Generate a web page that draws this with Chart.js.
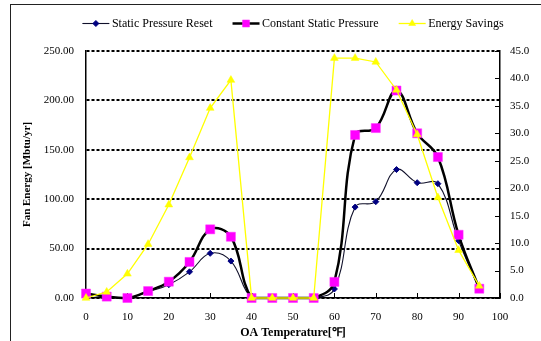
<!DOCTYPE html>
<html>
<head>
<meta charset="utf-8">
<script src="https://cdn.jsdelivr.net/npm/chart.js"></script>
<style>
  html, body { margin: 0; padding: 0; background: #fff; }
  #wrap { position: relative; width: 541px; height: 341px; overflow: hidden; }
  #frame { position: absolute; left: 10px; top: 4px; width: 700px; height: 700px; border: 1.5px solid #222; box-sizing: border-box; }
  canvas { position: absolute; left: 0; top: 0; }
</style>
</head>
<body>
<div id="wrap">
  <div id="frame"></div>
  <canvas id="c" width="541" height="341"></canvas>
</div>
<script>
// ---- data ----
const temperatures = [0, 5, 10, 15, 20, 25, 30, 35, 40, 45, 50, 55, 60, 65, 70, 75, 80, 85, 90, 95];
const staticPressureReset = [4, 1.4, 0, 6.3, 13.5, 26.5, 45.2, 37.4, 0, 0, 0, 0, 9.1, 92, 97.5, 130, 116.7, 115.7, 58, 9.2];
const constantStaticPressure = [4.5, 1.4, 0, 7, 16.5, 36.5, 69.5, 62, 0, 0, 0, 0, 16.3, 165, 172, 210, 166.7, 142.7, 64, 9.4];
const energySavings = [0, 1.1, 4.4, 9.8, 17.0, 25.6, 34.6, 39.7, 0, 0, 0, 0, 43.7, 43.7, 43.0, 37.9, 29.8, 18.3, 8.7, 2.2];
const seriesNames = ['Static Pressure Reset', 'Constant Static Pressure', 'Energy Savings'];
const leftAxisTitle = 'Fan Energy [Mbtu/yr]';
const xAxisTitle = 'OA Temperature[\u2109]';

const toPoints = (vals) => vals.map((v, i) => ({ x: temperatures[i], y: v }));
const FONT = '"Liberation Serif", "Times New Roman", serif';

const innerTicks = {
  id: 'innerTicks',
  beforeDatasetsDraw(chart) {
    const { ctx, chartArea: a, scales } = chart;
    ctx.save();
    ctx.strokeStyle = '#000';
    ctx.lineWidth = 1;
    scales.x.ticks.forEach(t => {
      const px = Math.round(scales.x.getPixelForValue(t.value)) + 0.5;
      ctx.beginPath(); ctx.moveTo(px, a.bottom); ctx.lineTo(px, a.bottom - 5); ctx.stroke();
    });
    scales.y1.ticks.forEach(t => {
      const py = Math.round(scales.y1.getPixelForValue(t.value)) + 0.5;
      ctx.beginPath(); ctx.moveTo(a.right, py); ctx.lineTo(a.right - 5, py); ctx.stroke();
    });
    ctx.restore();
  }
};

const customLegend = {
  id: 'customLegend',
  afterDraw(chart) {
    const ctx = chart.ctx;
    const a = chart.chartArea;
    const y = 23.5;
    ctx.save();
    ctx.font = '12px ' + FONT;
    const items = chart.data.datasets.map(ds => ({ ds, w: ctx.measureText(ds.label).width }));
    const lineLen = 27, gap = 2.5, spacing = 20;
    const total = items.reduce((s, it) => s + lineLen + gap + it.w, 0) + spacing * (items.length - 1);
    let x = (a.left + a.right) / 2 - total / 2;
    items.forEach(it => {
      const ds = it.ds;
      ctx.strokeStyle = ds.borderColor;
      ctx.lineWidth = ds.borderWidth;
      ctx.setLineDash([]);
      ctx.beginPath(); ctx.moveTo(x, y); ctx.lineTo(x + lineLen, y); ctx.stroke();
      ctx.fillStyle = ds.pointBackgroundColor;
      ctx.strokeStyle = ds.pointBorderColor;
      ctx.lineWidth = ds.pointBorderWidth;
      Chart.helpers.drawPoint(ctx, { pointStyle: ds.pointStyle, radius: ds.legendRadius, borderWidth: ds.pointBorderWidth, rotation: 0 }, x + lineLen / 2, y);
      ctx.fillStyle = '#000';
      ctx.textBaseline = 'middle';
      ctx.textAlign = 'left';
      ctx.fillText(ds.label, x + lineLen + gap, y + 0.5);
      x += lineLen + gap + it.w + spacing;
    });
    ctx.restore();
  }
};

new Chart(document.getElementById('c'), {
  type: 'line',
  data: {
    datasets: [
      {
        label: seriesNames[0],
        data: toPoints(staticPressureReset),
        yAxisID: 'y',
        borderColor: '#10102a',
        borderWidth: 1.1,
        tension: 0.4,
        pointStyle: 'rectRot',
        pointRadius: 3,
        legendRadius: 3,
        pointBackgroundColor: '#000080',
        pointBorderColor: '#000080',
        pointBorderWidth: 1,
        clip: false,
        order: 2
      },
      {
        label: seriesNames[1],
        data: toPoints(constantStaticPressure),
        yAxisID: 'y',
        borderColor: '#000000',
        borderWidth: 2.5,
        tension: 0.4,
        pointStyle: 'rect',
        pointRadius: 6.4,
        legendRadius: 5,
        pointBackgroundColor: '#FF00FF',
        pointBorderColor: '#FF33FF',
        pointBorderWidth: 0.5,
        clip: false,
        order: 1
      },
      {
        label: seriesNames[2],
        data: toPoints(energySavings),
        yAxisID: 'y1',
        borderColor: '#FFFF00',
        borderWidth: 1.3,
        tension: 0,
        pointStyle: 'triangle',
        pointRadius: 4.5,
        legendRadius: 4,
        pointBackgroundColor: '#FFFF00',
        pointBorderColor: '#FFFF00',
        pointBorderWidth: 0.5,
        clip: false,
        order: 0
      }
    ]
  },
  options: {
    responsive: false,
    animation: false,
    devicePixelRatio: 1,
    layout: { padding: { top: 51, left: 0, right: 0, bottom: 0 } },
    plugins: {
      legend: { display: false },
      title: { display: false },
      tooltip: { enabled: false }
    },
    scales: {
      x: {
        type: 'linear',
        min: 0, max: 100,
        afterFit: s => { s.height = 43; },
        ticks: { stepSize: 10, color: '#000', padding: 13, font: { family: FONT, size: 11 }, maxRotation: 0 },
        grid: { display: false, drawTicks: false },
        border: { display: true, color: '#000', width: 1.5 },
        title: { display: true, text: xAxisTitle, color: '#000', font: { family: FONT, size: 12, weight: 'bold' }, padding: { top: 0, bottom: 1 } }
      },
      y: {
        position: 'left',
        min: 0, max: 250,
        afterFit: s => { s.width = 86; },
        ticks: { stepSize: 50, color: '#000', padding: 12, font: { family: FONT, size: 11 }, callback: v => Number(v).toFixed(2) },
        grid: { color: '#000', lineWidth: 2, drawTicks: false },
        border: { display: true, color: '#000', width: 1.5, dash: [3, 2] },
        title: { display: true, text: leftAxisTitle, color: '#000', font: { family: FONT, size: 11, weight: 'bold' }, padding: { top: 21, bottom: 0 } }
      },
      y1: {
        position: 'right',
        min: 0, max: 45,
        afterFit: s => { s.width = 41; },
        ticks: { stepSize: 5, color: '#000', padding: 10, font: { family: FONT, size: 11 }, callback: v => Number(v).toFixed(1) },
        grid: { display: false, drawTicks: false, drawOnChartArea: false },
        border: { display: true, color: '#000', width: 1.5 }
      }
    }
  },
  plugins: [innerTicks, customLegend]
});
</script>
</body>
</html>
